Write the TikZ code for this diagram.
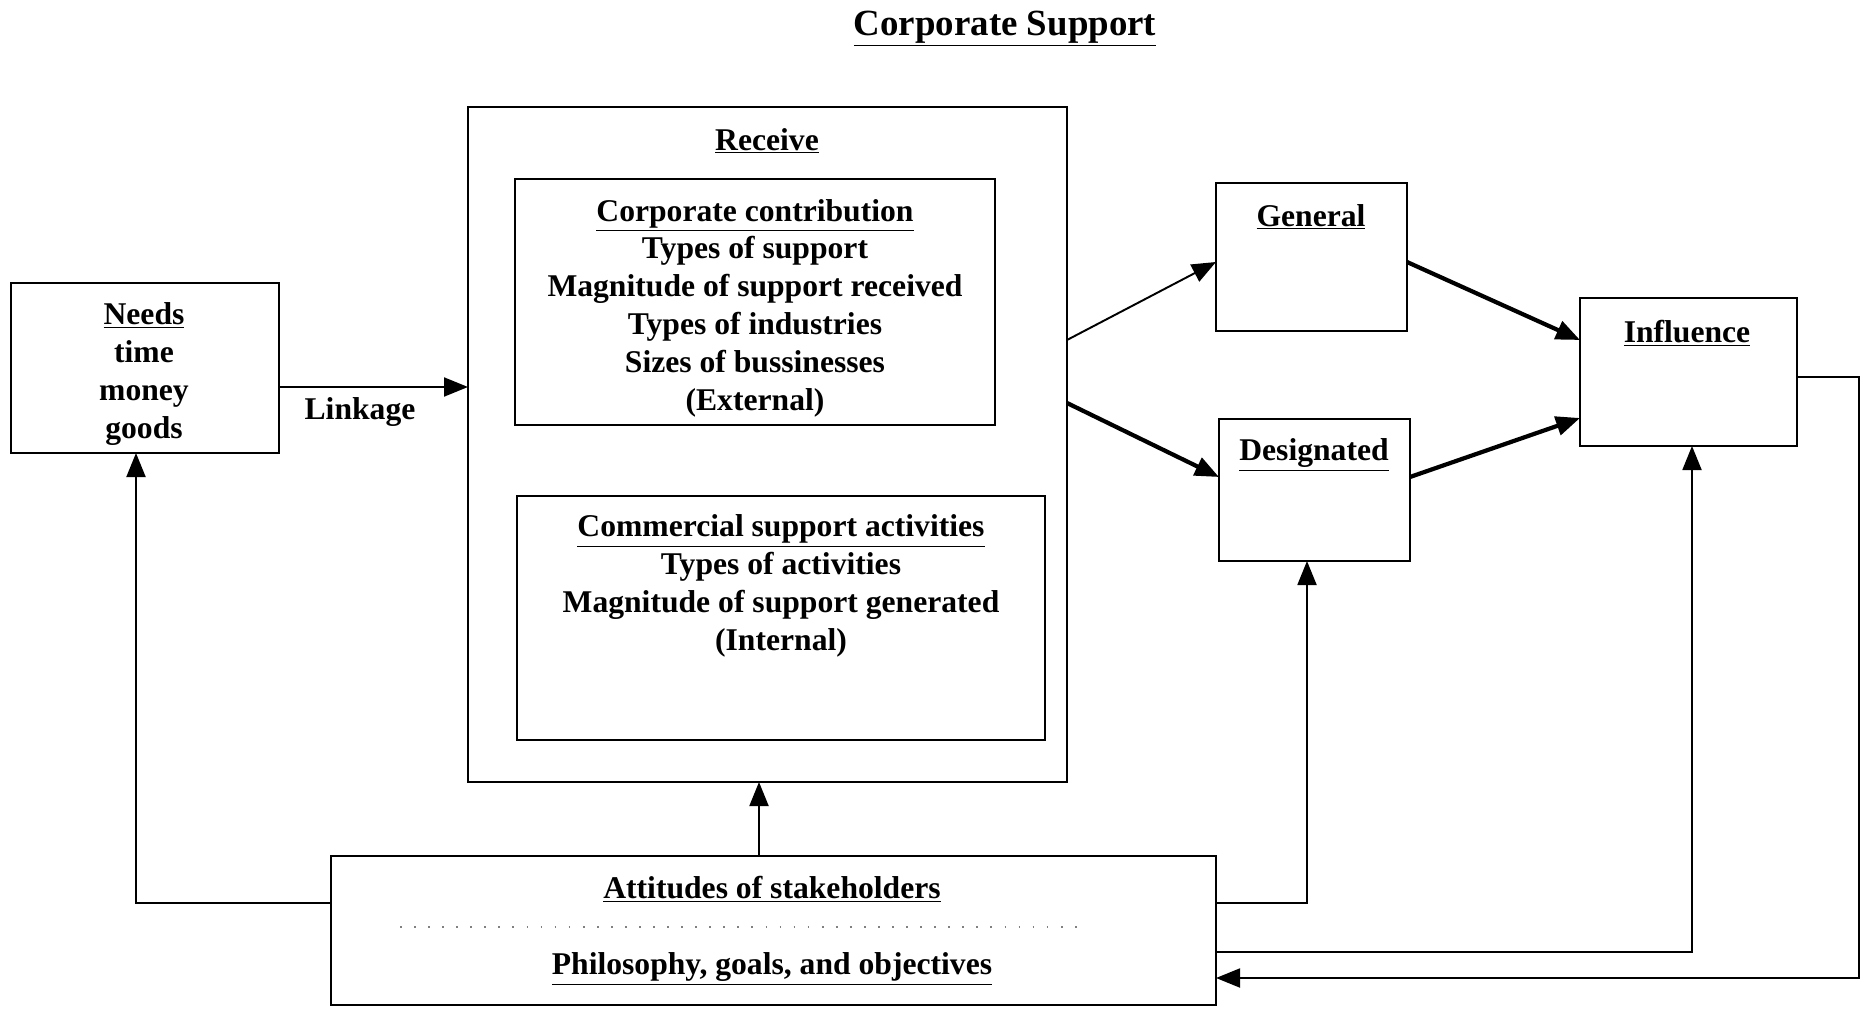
\documentclass[tikz,border=0pt]{standalone}
\usepackage{fontspec}
\setmainfont{Liberation Serif}
\usetikzlibrary{arrows.meta}
\usetikzlibrary{positioning}
\tikzset{box/.style = {draw, line width=1.1pt, inner sep=0, outer sep=0, anchor=north west}}
\tikzset{txt/.style = {font=\fontsize{18}{21.5}\selectfont\bfseries, align=center}}
\tikzset{arr/.style = {-{Triangle[length=4.8mm, width=3.8mm]}, line width=1.1pt}}
\tikzset{thickarr/.style = {arr, line width=2.4pt}}

\begin{document}
\begin{tikzpicture}[x=0.2mm, y=-0.2mm]
      \useasboundingbox (0, 0) rectangle (1871, 1009);

      \node [txt, font=\fontsize{21}{25}\selectfont\bfseries] (title) at (1005, 29) {\underline{Corporate Support}};

      \node [box, minimum width=53.6mm, minimum height=34mm] (needs) at (11, 283) {};
      \node [txt] (needlbl) at (144, 374) {\underline{Needs}\\time\\money\\goods};

      \node [box, minimum width=119.8mm, minimum height=135mm] (receive) at (468, 107) {};
      \node [txt] (recvlbl) at (767, 141) {\underline{Receive}};
      \node [box, minimum width=96mm, minimum height=49.2mm] (contrib) at (515, 179) {};
      \node [txt] (contlbl) at (755, 308)
            {\underline{Corporate contribution}\\Types of support\\Magnitude of support received\\
             Types of industries\\Sizes of bussinesses\\(External)};
      \node [box, minimum width=105.6mm, minimum height=48.8mm] (commerc) at (517, 496) {};
      \node [txt] (commlbl) at (781, 586)
            {\underline{Commercial support activities}\\Types of activities\\
             Magnitude of support generated\\(Internal)};

      \node [box, minimum width=38.2mm, minimum height=29.6mm] (general) at (1216, 183) {};
      \node [txt] (genlbl) at (1311, 217) {\underline{General}};
      \node [box, minimum width=38.2mm, minimum height=28.4mm] (designated) at (1219, 419) {};
      \node [txt] (desglbl) at (1314, 455) {\underline{Designated}};
      \node [box, minimum width=43.4mm, minimum height=29.6mm] (influence) at (1580, 298) {};
      \node [txt] (inflbl) at (1687, 333) {\underline{Influence}};

      \node [box, minimum width=177mm, minimum height=29.8mm] (attitudes) at (331, 856) {};
      \node [txt] (attlbl) at (772, 889) {\underline{Attitudes of stakeholders}};
      \node [txt] (philbl) at (772, 969) {\underline{Philosophy, goals, and objectives}};
      \draw [gray, line width=0.8pt, dash pattern=on 1pt off 7pt] (attitudes.west |- 0, 927) ++(69, 0) -- ++(680, 0);

      \draw [arr] (needs.east |- 0, 387) -- (receive.west |- 0, 387);
      \node [txt] (linkage) at (360, 412) {Linkage};

      \draw [arr] (receive.east |- 0, 340) -- (general.west |- 0, 262);
      \draw [thickarr] (receive.east |- 0, 403) -- (designated.west |- 0, 477);
      \draw [thickarr] (general.east |- 0, 262) -- (influence.west |- 0, 340);
      \draw [thickarr] (designated.east |- 0, 477) -- (influence.west |- 0, 418);

      \draw [arr] (attitudes.north -| 759, 0) -- (receive.south -| 759, 0);
      \draw [arr] (attitudes.west |- 0, 903) -| (needs.south -| 136, 0);
      \draw [arr] (attitudes.east |- 0, 903) -| (designated.south -| 1307, 0);
      \draw [arr] (attitudes.east |- 0, 952) -| (influence.south -| 1692, 0);
      \draw [arr] (influence.east |- 0, 377) -- ++(62, 0) |- (attitudes.east |- 0, 978);
\end{tikzpicture}
\end{document}
